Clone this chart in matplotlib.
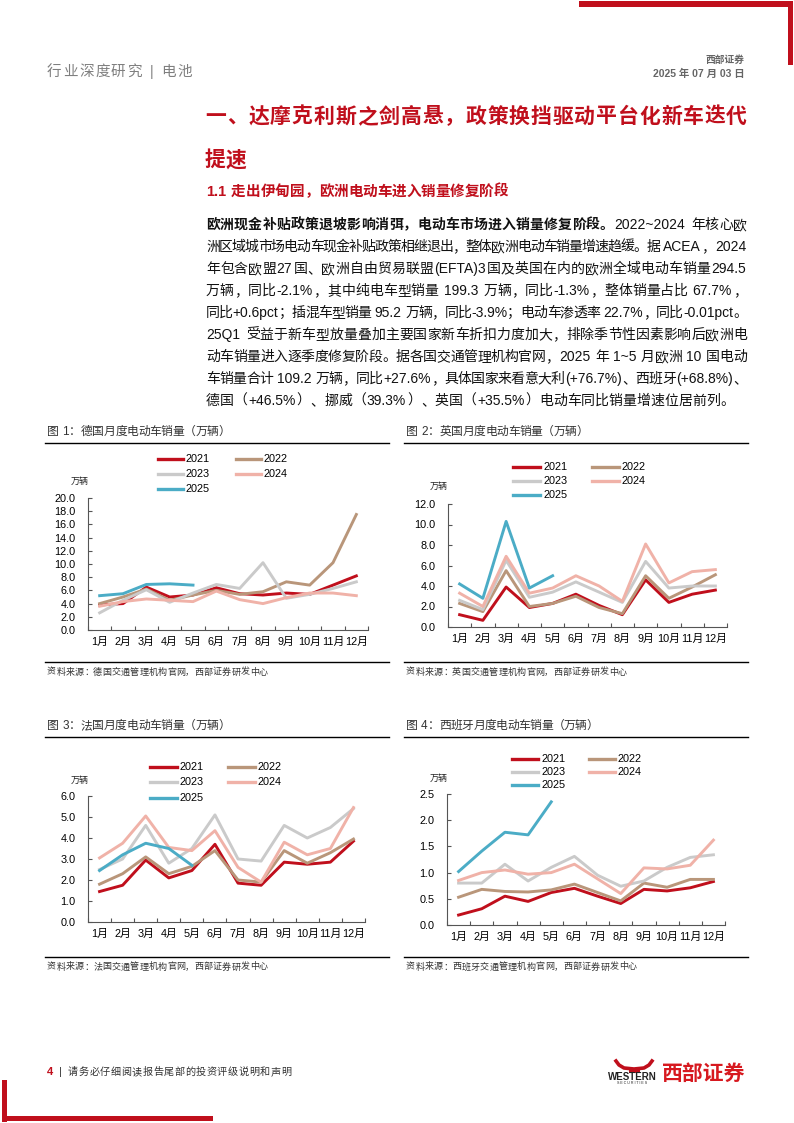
import re
import matplotlib
matplotlib.use('Agg')
import matplotlib.pyplot as plt
from matplotlib.lines import Line2D
from matplotlib.patches import Rectangle
import numpy as np

plt.rcParams['font.family'] = ['Liberation Sans', 'Noto Sans CJK SC']

# 数据（万辆）
months = [f'{i}月' for i in range(1, 13)]
years = ['2021', '2022', '2023', '2024', '2025']
colors = ['#C00F1C', '#B9967A', '#CACACA', '#F0B2A8', '#4BACC6']

de_2021 = [3.8, 4.0, 6.5, 5.0, 5.3, 6.4, 5.5, 5.3, 5.6, 5.4, 6.8, 8.2]
de_2022 = [4.0, 5.0, 6.2, 4.5, 5.3, 6.0, 5.4, 5.8, 7.3, 6.8, 10.2, 17.5]
de_2023 = [2.6, 4.5, 6.1, 4.2, 5.6, 6.9, 6.3, 10.2, 4.8, 5.4, 6.3, 7.3]
de_2024 = [3.6, 4.3, 4.7, 4.5, 4.3, 5.9, 4.6, 4.0, 4.9, 5.6, 5.6, 5.2]
de_2025 = [5.2, 5.5, 6.9, 7.0, 6.8]

uk_2021 = [1.2, 0.65, 3.9, 1.9, 2.3, 3.2, 2.1, 1.2, 4.6, 2.4, 3.2, 3.6]
uk_2022 = [2.3, 1.5, 5.5, 2.0, 2.3, 3.0, 1.9, 1.3, 5.0, 2.8, 3.9, 5.1]
uk_2023 = [2.6, 1.7, 6.5, 2.9, 3.4, 4.4, 3.4, 2.4, 6.4, 3.8, 4.0, 4.0]
uk_2024 = [3.3, 2.0, 6.9, 3.3, 3.8, 5.0, 4.0, 2.5, 8.1, 4.3, 5.4, 5.6]
uk_2025 = [4.2, 2.8, 10.3, 3.8, 5.0]

fr_2021 = [1.45, 1.75, 2.95, 2.1, 2.45, 3.7, 1.85, 1.75, 2.85, 2.75, 2.85, 3.85]
fr_2022 = [1.8, 2.3, 3.1, 2.3, 2.65, 3.4, 2.0, 1.9, 3.4, 2.8, 3.3, 3.95]
fr_2023 = [2.5, 3.0, 4.6, 2.8, 3.5, 5.1, 3.0, 2.9, 4.6, 4.0, 4.5, 5.4]
fr_2024 = [3.05, 3.75, 5.05, 3.55, 3.4, 4.35, 2.6, 1.9, 3.8, 3.2, 3.5, 5.45]
fr_2025 = [2.45, 3.2, 3.75, 3.5, 2.7]

es_2021 = [0.19, 0.31, 0.55, 0.45, 0.62, 0.70, 0.55, 0.41, 0.68, 0.65, 0.71, 0.83]
es_2022 = [0.53, 0.68, 0.64, 0.63, 0.67, 0.78, 0.62, 0.46, 0.80, 0.72, 0.87, 0.87]
es_2023 = [0.80, 0.80, 1.16, 0.84, 1.10, 1.31, 0.95, 0.74, 0.84, 1.10, 1.29, 1.34]
es_2024 = [0.85, 1.00, 1.05, 0.97, 1.00, 1.16, 0.88, 0.60, 1.09, 1.07, 1.14, 1.62]
es_2025 = [1.02, 1.41, 1.77, 1.72, 2.35]

W, H = 794, 1123
RED = '#C00F1C'
fig = plt.figure(figsize=(W / 100, H / 100), dpi=100)
renderer = fig.canvas.get_renderer()


def fx(x):
    return x / W


def fy(y):
    return 1 - y / H


def rect(x0, y0, x1, y1, color=RED):
    fig.add_artist(Rectangle((fx(x0), fy(y1)), (x1 - x0) / W, (y1 - y0) / H,
                             color=color, lw=0, transform=fig.transFigure))


def hline(x0, x1, y, color='black', lw=1.0):
    fig.add_artist(Line2D([fx(x0), fx(x1)], [fy(y), fy(y)], color=color, lw=lw,
                          transform=fig.transFigure))


def justify(y, segs, x0, x1=None, size=10, color='#111111'):
    # 逐字排版：全角字占 1em，西文串按实际宽度；给定 x1 时两端对齐
    em = size * 100 / 72
    toks = []
    for s, w in segs:
        for t in re.findall(r'[A-Za-z0-9.+\-%~()|]+| |\S', s):
            toks.append((t, w))
    items = []
    for t, w in toks:
        if t == ' ':
            items.append((None, 0.3 * em, 0))
        elif ord(t[0]) > 0x2E80:
            a = fig.text(0, fy(y), t, fontsize=size, fontweight=w, color=color,
                         va='center', ha='center')
            items.append((a, em, 0.5 * em))
        else:
            a = fig.text(0, fy(y), t, fontsize=size, fontweight=w, color=color,
                         va='center', ha='left')
            wd = a.get_window_extent(renderer).width + 0.12 * em
            items.append((a, wd, 0.05 * em))
    total = sum(i[1] for i in items)
    gap = 0 if x1 is None else (x1 - x0 - total) / (len(items) - 1)
    x = x0
    for a, wd, off in items:
        if a is not None:
            a.set_x(fx(x + off))
        x += wd + gap


# 页眉页脚
rect(579, 1, 793, 7)
rect(788, 1, 793, 65)
rect(2, 1080, 7, 1122)
rect(2, 1116, 213, 1121)
justify(72, [('行业深度研究 | 电池', 'normal')], 47, 192, size=10.5, color='#7F7F7F')
fig.text(fx(745), fy(60), '西部证券', fontsize=7, fontweight='bold', color='#666666',
         ha='right', va='center')
fig.text(fx(745), fy(74), '2025 年 07 月 03 日', fontsize=7.5, fontweight='bold',
         color='#666666', ha='right', va='center')

fig.text(fx(47), fy(1072), '4', fontsize=8, fontweight='bold', color=RED, va='center')
fig.text(fx(59), fy(1072), '|', fontsize=8, color='#333333', va='center')
justify(1072, [('请务必仔细阅读报告尾部的投资评级说明和声明', 'normal')], 68, 291,
        size=7.3, color='#333333')

# 标志
fig.add_artist(Line2D([fx(x) for x in [616, 619, 624, 634, 644, 649, 652]],
                      [fy(y) for y in [1061, 1065, 1068, 1069, 1068, 1065, 1061]],
                      color=RED, lw=2.6, transform=fig.transFigure))
fig.add_artist(Line2D([fx(630), fx(638)], [fy(1071), fy(1071)], color=RED, lw=2.2,
                      transform=fig.transFigure))
fig.text(fx(632), fy(1077), 'WESTERN', fontsize=7, fontweight='bold', color='#222222',
         ha='center', va='center')
fig.text(fx(632), fy(1083), 'S E C U R I T I E S', fontsize=2.6, color='#222222',
         ha='center', va='center')
fig.text(fx(662), fy(1074), '西部证券', fontsize=15, fontweight='bold', color='#D7191F',
         va='center')

# 标题与正文
justify(117, [('一、达摩克利斯之剑高悬，政策换挡驱动平台化新车迭代', 'bold')], 205, 747,
        size=15, color=RED)
justify(160, [('提速', 'bold')], 205, None, size=15, color=RED)
justify(192, [('1.1 走出伊甸园，欧洲电动车进入销量修复阶段', 'bold')], 205, None,
        size=10.5, color=RED)

body = [
    [('欧洲现金补贴政策退坡影响消弭，电动车市场进入销量修复阶段。', 'bold'), ('2022~2024 年核心欧', 'normal')],
    [('洲区域城市场电动车现金补贴政策相继退出，整体欧洲电动车销量增速趋缓。据 ACEA，2024', 'normal')],
    [('年包含欧盟27国、欧洲自由贸易联盟(EFTA)3国及英国在内的欧洲全域电动车销量294.5', 'normal')],
    [('万辆，同比-2.1%，其中纯电车型销量 199.3 万辆，同比-1.3%，整体销量占比 67.7%，', 'normal')],
    [('同比+0.6pct；插混车型销量 95.2 万辆，同比-3.9%；电动车渗透率 22.7%，同比-0.01pct。', 'normal')],
    [('25Q1 受益于新车型放量叠加主要国家新车折扣力度加大，排除季节性因素影响后欧洲电', 'normal')],
    [('动车销量进入逐季度修复阶段。据各国交通管理机构官网，2025 年 1~5 月欧洲 10 国电动', 'normal')],
    [('车销量合计 109.2 万辆，同比+27.6%，具体国家来看意大利(+76.7%)、西班牙(+68.8%)、', 'normal')],
    [('德国（+46.5%）、挪威（39.3%）、英国（+35.5%）电动车同比销量增速位居前列。', 'normal')],
]
for i, segs in enumerate(body):
    last = i == len(body) - 1
    justify(225 + i * 22, segs, 206, None if last else 747, size=10)


def chart(box, ymax, ystep, series, title, tx1, source, sx1, frame, legend, unit):
    left, right, top, bottom = box
    x0, x1, ttl_y, rule_y, src_rule_y = frame
    justify(ttl_y, [(title, 'normal')], x0 + 2, tx1, size=8.5, color='#333333')
    hline(x0, x1, rule_y, 'black', 1.0)
    hline(x0, x1, src_rule_y, 'black', 1.0)
    justify(src_rule_y + 10, [(source, 'normal')], x0 + 2, sx1, size=6.5, color='#333333')

    ax = fig.add_axes([fx(left), fy(bottom), (right - left) / W, (bottom - top) / H])
    xs = np.arange(1, 13)
    for vals, c in zip(series, colors):
        ax.plot(xs[:len(vals)], vals, color=c, lw=2.1)
    ax.set_xlim(0.5, 12.5)
    ax.set_ylim(0, ymax)
    ax.set_xticks(np.arange(0.5, 13, 1))
    ax.set_xticklabels([])
    ax.set_xticks(xs, minor=True)
    ax.set_xticklabels(months, minor=True)
    ax.set_yticks(np.arange(0, ymax + ystep / 2, ystep))
    ax.yaxis.set_major_formatter(lambda v, p: f'{v:.1f}')
    ax.tick_params(axis='x', which='major', direction='in', length=3, color='#555555')
    ax.tick_params(axis='x', which='minor', length=0, pad=5, labelsize=7.8)
    ax.tick_params(axis='y', direction='in', length=3, pad=9, labelsize=7.8,
                   color='#555555')
    for s in ['top', 'right']:
        ax.spines[s].set_visible(False)
    for s in ['left', 'bottom']:
        ax.spines[s].set_color('#555555')
        ax.spines[s].set_linewidth(0.8)
    ax.patch.set_alpha(0)

    c1, c2, rows, ln = legend
    spots = [(c1, rows[0]), (c2, rows[0]), (c1, rows[1]), (c2, rows[1]), (c1, rows[2])]
    for (lx, ly), name, c in zip(spots, years, colors):
        fig.add_artist(Line2D([fx(lx), fx(lx + ln)], [fy(ly), fy(ly)], color=c, lw=2.4,
                              transform=fig.transFigure))
        fig.text(fx(lx + ln + 3), fy(ly), name, fontsize=7.8, va='center')
    fig.text(fx(unit[0]), fy(unit[1]), '万辆', fontsize=6.5, ha='center', va='center',
             color='#222222')


chart((88, 368, 498, 630), 20, 2, [de_2021, de_2022, de_2023, de_2024, de_2025],
      '图 1：德国月度电动车销量（万辆）', 230,
      '资料来源：德国交通管理机构官网，西部证券研发中心', 268,
      (45, 389, 432, 443, 662), (158, 236, (459, 474, 489), 25), (80, 481))

chart((448, 727, 504, 627), 12, 2, [uk_2021, uk_2022, uk_2023, uk_2024, uk_2025],
      '图 2：英国月度电动车销量（万辆）', 588,
      '资料来源：英国交通管理机构官网，西部证券研发中心', 627,
      (404, 748, 432, 443, 662), (513, 592, (467, 481, 495), 27), (439, 486))

chart((88, 365, 796, 922), 6, 1, [fr_2021, fr_2022, fr_2023, fr_2024, fr_2025],
      '图 3：法国月度电动车销量（万辆）', 230,
      '资料来源：法国交通管理机构官网，西部证券研发中心', 268,
      (45, 389, 726, 737, 957), (150, 228, (767, 782, 798), 27), (80, 780))

chart((447, 725, 794, 925), 2.5, 0.5, [es_2021, es_2022, es_2023, es_2024, es_2025],
      '图 4：西班牙月度电动车销量（万辆）', 598,
      '资料来源：西班牙交通管理机构官网，西部证券研发中心', 637,
      (404, 748, 726, 737, 957), (512, 589, (759, 772, 785), 26), (439, 778))

fig.savefig('out.png', dpi=100)
